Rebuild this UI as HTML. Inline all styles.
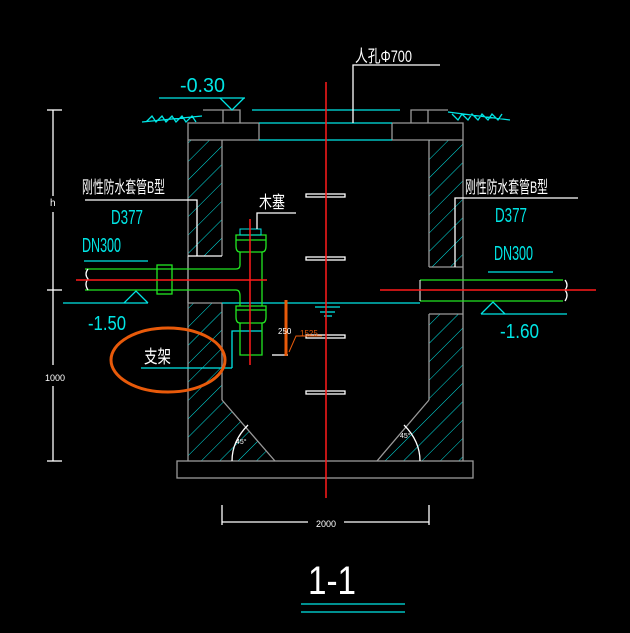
<!DOCTYPE html>
<html><head><meta charset="utf-8"><style>
html,body{margin:0;padding:0;background:#000;width:630px;height:633px;overflow:hidden}
svg{display:block}
text{font-family:"Liberation Sans","Noto Sans CJK SC",sans-serif}
</style></head><body>
<svg width="630" height="633" viewBox="0 0 630 633" xmlns="http://www.w3.org/2000/svg">
<defs>
<pattern id="h" patternUnits="userSpaceOnUse" width="13" height="13" patternTransform="rotate(45)">
<line x1="0" y1="0" x2="0" y2="13" stroke="#00e5e5" stroke-width="1"/>
</pattern>
</defs>
<rect width="630" height="633" fill="#000"/>
<g fill="url(#h)">
<rect x="188" y="140" width="34" height="116"/>
<polygon points="188,303 222,303 222,400 275,461 188,461"/>
<rect x="429" y="140" width="34" height="127"/>
<polygon points="429,314 463,314 463,461 377,461 429,400"/>
</g>
<g fill="none" stroke="#9a9a9a" stroke-width="1.3">
<polyline points="188,461 188,123 259,123 259,140 188,140"/>
<line x1="222" y1="140" x2="222" y2="256"/>
<line x1="222" y1="303" x2="222" y2="400"/>
<line x1="222" y1="400" x2="275" y2="461"/>
<line x1="188" y1="256" x2="188" y2="303"/>
<polyline points="463,461 463,123 392,123 392,140 463,140"/>
<line x1="429" y1="140" x2="429" y2="267"/>
<line x1="429" y1="314" x2="429" y2="400"/>
<line x1="429" y1="400" x2="377" y2="461"/>
<rect x="177" y="461" width="296" height="17"/>
<polyline points="203,110 240,110 240,123"/><line x1="223" y1="110" x2="223" y2="123"/>
<polyline points="411,123 411,110 448,110"/><line x1="428" y1="110" x2="428" y2="123"/>
<line x1="188" y1="256" x2="222" y2="256" stroke="#fff"/>
<line x1="188" y1="303" x2="222" y2="303"/>
<line x1="429" y1="267" x2="463" y2="267"/>
<line x1="429" y1="314" x2="463" y2="314"/>
</g>
<g stroke="#00e5e5" stroke-width="1.3" fill="none">
<line x1="252" y1="110" x2="400" y2="110"/>
<line x1="259" y1="123" x2="392" y2="123"/>
<line x1="259" y1="140" x2="392" y2="140"/>
<line x1="222" y1="303" x2="420" y2="303"/>
<line x1="159" y1="98" x2="245" y2="98"/>
<polyline points="220,98 232,110 244,98"/>
<line x1="63" y1="303" x2="148" y2="303"/>
<polyline points="124,303 136,291 148,303"/>
<line x1="84" y1="261" x2="148" y2="261"/>
<line x1="488" y1="272" x2="553" y2="272"/>
<line x1="481" y1="314" x2="567" y2="314"/>
<polyline points="481,314 493,302 505,314"/>
<line x1="141" y1="368" x2="232" y2="368"/>
<polyline points="232,368 232,331 262,331"/>
<line x1="315" y1="307" x2="340" y2="307"/><line x1="320" y1="312" x2="335" y2="312"/><line x1="324" y1="316" x2="332" y2="316"/>
<line x1="301" y1="604" x2="405" y2="604"/><line x1="301" y1="612" x2="405" y2="612"/>
<path d="M142,122 l60,-6 M146,122 l6,-6 l4,6 l6,-6 l4,6 l6,-6 l4,6 l6,-6 l4,6 l6,-6 l4,6"/>
<path d="M448,112 l62,8 M452,114 l6,6 l4,-6 l6,6 l4,-6 l6,6 l4,-6 l6,6 l4,-6 l6,6 l4,-6"/>
</g>
<g stroke="#22e622" stroke-width="1.3" fill="none">
<line x1="85" y1="269" x2="236" y2="269"/>
<line x1="85" y1="290" x2="236" y2="290"/>
<rect x="157" y="265" width="15" height="29"/>
<path d="M236,269 q4,0 4,-4 V252 M236,290 q4,0 4,6 V306"/>
<line x1="262" y1="252" x2="262" y2="306"/>
<path d="M236,235 h30 v11 q0,6 -4,6 h-22 q-4,0 -4,-6 z"/><line x1="236" y1="240" x2="266" y2="240"/>
<path d="M236,306 h30 v11 q0,6 -4,6 h-22 q-4,0 -4,-6 z"/><line x1="236" y1="310" x2="266" y2="310"/>
<polyline points="240,323 240,355 262,355 262,323"/>
<line x1="420" y1="280" x2="563" y2="280"/>
<line x1="420" y1="301" x2="563" y2="301"/>
</g>
<rect x="240" y="229" width="21" height="6" fill="none" stroke="#00e5e5"/>
<line x1="420" y1="280" x2="420" y2="301" stroke="#fff"/>
<g stroke="#fff" stroke-width="1.3" fill="none">
<path d="M88,269 q-4,5 0,10 q-4,5 0,11"/>
<path d="M565,280 q4,5 0,10 q4,5 0,11"/>
<polyline points="353,123 353,65 440,65"/>
<polyline points="85,200 197,200 197,256"/>
<polyline points="578,198 455,198 455,267"/>
<polyline points="257,229 257,213 296,213"/>
<rect x="306" y="194" width="39" height="3"/>
<rect x="306" y="257" width="39" height="3"/>
<rect x="306" y="335" width="39" height="3"/>
<rect x="306" y="391" width="39" height="3"/>
<line x1="272" y1="355" x2="288" y2="355"/>
<line x1="53" y1="110" x2="53" y2="196"/><line x1="53" y1="212" x2="53" y2="365"/><line x1="53" y1="386" x2="53" y2="461"/>
<line x1="47" y1="110" x2="62" y2="110"/><line x1="47" y1="290" x2="62" y2="290"/><line x1="47" y1="461" x2="62" y2="461"/>
<line x1="222" y1="505" x2="222" y2="525"/><line x1="429" y1="505" x2="429" y2="525"/>
<line x1="222" y1="522" x2="308" y2="522"/><line x1="344" y1="522" x2="429" y2="522"/>
<path d="M232,461 q0,-20 16,-36"/><path d="M420,461 q0,-20 -16,-36"/>
</g>
<g stroke="#ff1a1a" stroke-width="1.5">
<line x1="326" y1="82" x2="326" y2="498"/>
<line x1="76" y1="280" x2="267" y2="280"/>
<line x1="250" y1="219" x2="250" y2="365"/>
<line x1="380" y1="290" x2="596" y2="290"/>
</g>
<line x1="286" y1="300" x2="286" y2="356" stroke="#e85a0a" stroke-width="3"/>
<polyline points="289,352 296,336 322,336" stroke="#e85a0a" fill="none"/>
<ellipse cx="168" cy="360" rx="57" ry="32" fill="none" stroke="#e85a0a" stroke-width="3"/>
<g fill="#fff">
<text x="355" y="62" font-size="17" textLength="57" lengthAdjust="spacingAndGlyphs">人孔Φ700</text>
<text x="82" y="193" font-size="17" textLength="83" lengthAdjust="spacingAndGlyphs">刚性防水套管B型</text>
<text x="465" y="193" font-size="17" textLength="83" lengthAdjust="spacingAndGlyphs">刚性防水套管B型</text>
<text x="259" y="208" font-size="17" textLength="26" lengthAdjust="spacingAndGlyphs">木塞</text>
<text x="144" y="363" font-size="18" textLength="27" lengthAdjust="spacingAndGlyphs">支架</text>
<text x="278" y="334" font-size="8">250</text>
<text x="50" y="206" font-size="10">h</text>
<text x="45" y="381" font-size="9">1000</text>
<text x="316" y="527" font-size="9">2000</text>
<text x="236" y="444" font-size="7">45°</text>
<text x="400" y="438" font-size="7">45°</text>
<text x="308" y="594" font-size="40" textLength="48" lengthAdjust="spacingAndGlyphs">1-1</text>
</g>
<text x="300" y="336" font-size="8" fill="#e85a0a">1525</text>
<g fill="#00e5e5" font-size="20">
<text x="180" y="92" textLength="45" lengthAdjust="spacingAndGlyphs">-0.30</text>
<text x="111" y="224" textLength="32" lengthAdjust="spacingAndGlyphs">D377</text>
<text x="82" y="252" textLength="39" lengthAdjust="spacingAndGlyphs">DN300</text>
<text x="88" y="330" textLength="38" lengthAdjust="spacingAndGlyphs">-1.50</text>
<text x="495" y="222" textLength="32" lengthAdjust="spacingAndGlyphs">D377</text>
<text x="494" y="260" textLength="39" lengthAdjust="spacingAndGlyphs">DN300</text>
<text x="500" y="338" textLength="39" lengthAdjust="spacingAndGlyphs">-1.60</text>
</g>
</svg>
</body></html>
